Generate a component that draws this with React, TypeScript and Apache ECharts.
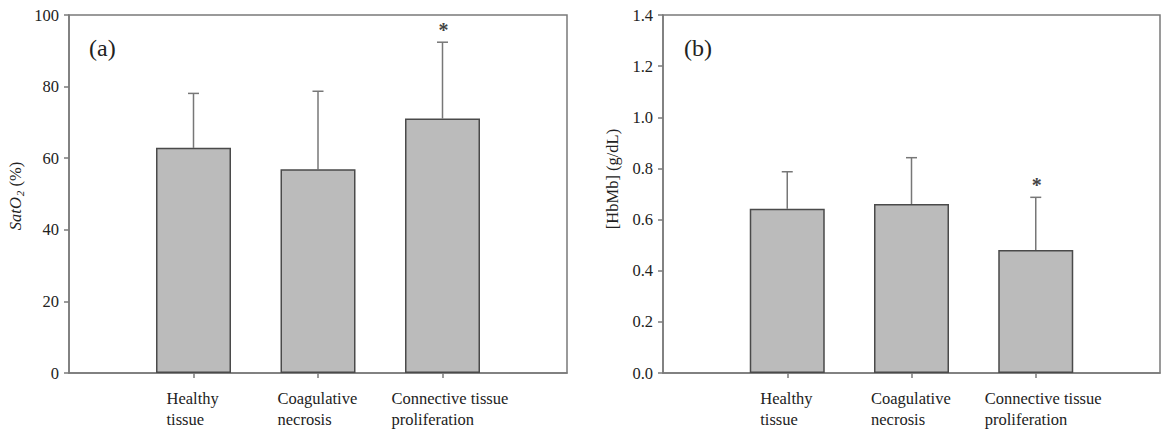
import React, { useEffect, useRef } from "react";
import * as echarts from "echarts";

// Tissue groups shown on both panels
const categories = ["Healthy tissue", "Coagulative necrosis", "Connective tissue proliferation"];
const categoryLabels = ["Healthy\ntissue", "Coagulative\nnecrosis", "Connective tissue\nproliferation"];

// (a) oxygen saturation, mean and mean + SD (%)
const satO2Mean = [62.9, 56.9, 71.1];
const satO2Upper = [78.1, 78.7, 92.4];
const satO2Significant = [false, false, true];

// (b) haemoglobin + myoglobin concentration, mean and mean + SD (g/dL)
const hbMbMean = [0.642, 0.661, 0.481];
const hbMbUpper = [0.787, 0.842, 0.687];
const hbMbSignificant = [false, false, true];

const satO2Ticks = [0, 20, 40, 60, 80, 100];
const hbMbTicks = [0, 0.2, 0.4, 0.6, 0.8, 1.0, 1.2, 1.4];

const FONT = "Liberation Serif";
const FS = 16.5;
const AXIS_GREY = "#7a7a7a";
const TEXT = "#222";

// padded so the three groups sit at 1, 2, 3 between two empty ends
const axisData = ["", ...categoryLabels, ""];
const inner = (i: number) => i > 0 && i < axisData.length - 1;

function measure(text: string, size: number) {
  const c = document.createElement("canvas").getContext("2d")!;
  c.font = `${size}px "${FONT}"`;
  return Math.max(...text.split("\n").map((l) => c.measureText(l).width));
}

function buildPanel(
  gridIndex: number,
  mean: number[],
  upper: number[],
  sig: boolean[],
  ticks: number[],
  decimals: number
) {
  // each two-line label is a left-aligned block centred under its tick
  const rich: Record<string, any> = {};
  categoryLabels.forEach((lab, i) => {
    rich["c" + i] = {
      width: Math.ceil(measure(lab, FS)) + 1,
      align: "left",
      fontFamily: FONT,
      fontSize: FS,
      lineHeight: 21,
      color: TEXT,
      padding: i === categoryLabels.length - 1 ? [0, 0, 0, 16] : 0,
    };
  });

  const xAxis = {
    type: "category",
    gridIndex,
    data: axisData,
    boundaryGap: false,
    axisLine: { lineStyle: { color: AXIS_GREY, width: 1.5 } },
    axisTick: { interval: (i: number) => inner(i), length: 5, lineStyle: { color: AXIS_GREY, width: 1.5 } },
    axisLabel: {
      interval: (i: number) => inner(i),
      margin: 15,
      fontFamily: FONT,
      fontSize: FS,
      color: TEXT,
      formatter: (v: string, i: number) => {
        if (!v) return "";
        const k = i - 1;
        return v
          .split("\n")
          .map((l) => `{c${k}|${l}}`)
          .join("\n");
      },
      rich,
    },
    splitLine: { show: false },
  };

  const yAxis = {
    type: "value",
    gridIndex,
    min: ticks[0],
    max: ticks[ticks.length - 1],
    interval: ticks[1] - ticks[0],
    axisLine: { show: true, lineStyle: { color: AXIS_GREY, width: 1.5 } },
    axisTick: { show: true, length: 5, lineStyle: { color: AXIS_GREY, width: 1.5 } },
    axisLabel: {
      margin: 10,
      fontFamily: FONT,
      fontSize: FS,
      color: TEXT,
      formatter: (v: number) => v.toFixed(decimals),
    },
    splitLine: { show: false },
  };

  const barData = [null, ...mean, null];
  const errData = mean.map((m, i) => [i + 1, m, upper[i]]);
  const sigData = upper.map((u, i) => (sig[i] ? [i + 1, u] : null)).filter(Boolean);

  const series = [
    {
      type: "bar",
      xAxisIndex: gridIndex,
      yAxisIndex: gridIndex,
      data: barData,
      barWidth: 75,
      itemStyle: { color: "#bbbbbb", borderColor: "#4a4a4a", borderWidth: 1.5 },
      silent: true,
    },
    {
      type: "custom",
      xAxisIndex: gridIndex,
      yAxisIndex: gridIndex,
      data: errData,
      silent: true,
      renderItem: (_p: any, api: any) => {
        const base = api.coord([api.value(0), api.value(1)]);
        const top = api.coord([api.value(0), api.value(2)]);
        const style = { stroke: "#777777", lineWidth: 1.5 };
        return {
          type: "group",
          children: [
            { type: "line", shape: { x1: base[0], y1: base[1], x2: top[0], y2: top[1] }, style },
            { type: "line", shape: { x1: top[0] - 5.5, y1: top[1], x2: top[0] + 5.5, y2: top[1] }, style },
          ],
        };
      },
    },
    {
      type: "custom",
      xAxisIndex: gridIndex,
      yAxisIndex: gridIndex,
      data: sigData,
      silent: true,
      renderItem: (_p: any, api: any) => {
        const top = api.coord([api.value(0), api.value(1)]);
        return {
          type: "text",
          x: top[0] + 1,
          y: top[1] - 12,
          style: {
            text: "*",
            fontFamily: FONT,
            fontSize: 20,
            fontWeight: "bold",
            fill: "#444",
            align: "center",
            verticalAlign: "middle",
          },
        };
      },
    },
  ];

  return { xAxis, yAxis, series };
}

export default function App() {
  const ref = useRef<HTMLDivElement>(null);

  useEffect(() => {
    if (!ref.current) return;
    const chart = echarts.init(ref.current, null, { renderer: "svg" });

    const a = buildPanel(0, satO2Mean, satO2Upper, satO2Significant, satO2Ticks, 0);
    const b = buildPanel(1, hbMbMean, hbMbUpper, hbMbSignificant, hbMbTicks, 1);

    (a.yAxis as any).name = "{i|SatO}{s|2}{n| (%)}";
    (a.yAxis as any).nameLocation = "middle";
    (a.yAxis as any).nameGap = 44;
    (a.yAxis as any).nameTextStyle = {
      fontFamily: FONT,
      fontSize: FS,
      color: TEXT,
      padding: [0, 4, 0, 0],
      rich: {
        i: { fontFamily: FONT, fontSize: FS, fontStyle: "italic", color: TEXT },
        s: { fontFamily: FONT, fontSize: 11, fontStyle: "italic", color: TEXT, padding: [8, 0, 0, 1] },
        n: { fontFamily: FONT, fontSize: FS, color: TEXT },
      },
    };

    (b.yAxis as any).name = "[HbMb] (g/dL)";
    (b.yAxis as any).nameLocation = "middle";
    (b.yAxis as any).nameGap = 42;
    (b.yAxis as any).nameTextStyle = {
      fontFamily: FONT,
      fontSize: FS,
      color: TEXT,
      padding: [0, 0, 0, 30],
    };

    const grid = (left: number, width: number) => ({
      left,
      top: 15,
      width,
      height: 358,
      show: true,
      borderColor: AXIS_GREY,
      borderWidth: 1.5,
      backgroundColor: "transparent",
    });

    chart.setOption({
      animation: false,
      backgroundColor: "#ffffff",
      textStyle: { fontFamily: FONT },
      grid: [grid(69, 498), grid(663, 497)],
      xAxis: [a.xAxis, b.xAxis],
      yAxis: [a.yAxis, b.yAxis],
      series: [...a.series, ...b.series],
      graphic: [
        {
          type: "text",
          left: 89,
          top: 36,
          style: { text: "(a)", fontFamily: FONT, fontSize: 24, fill: TEXT },
        },
        {
          type: "text",
          left: 684,
          top: 36,
          style: { text: "(b)", fontFamily: FONT, fontSize: 24, fill: TEXT },
        },
      ],
    });

    return () => chart.dispose();
  }, []);

  return (
    <div
      ref={ref}
      style={{ position: "absolute", left: 0, top: 0, width: 1161, height: 430 }}
      aria-label={categories.join(", ")}
    />
  );
}
